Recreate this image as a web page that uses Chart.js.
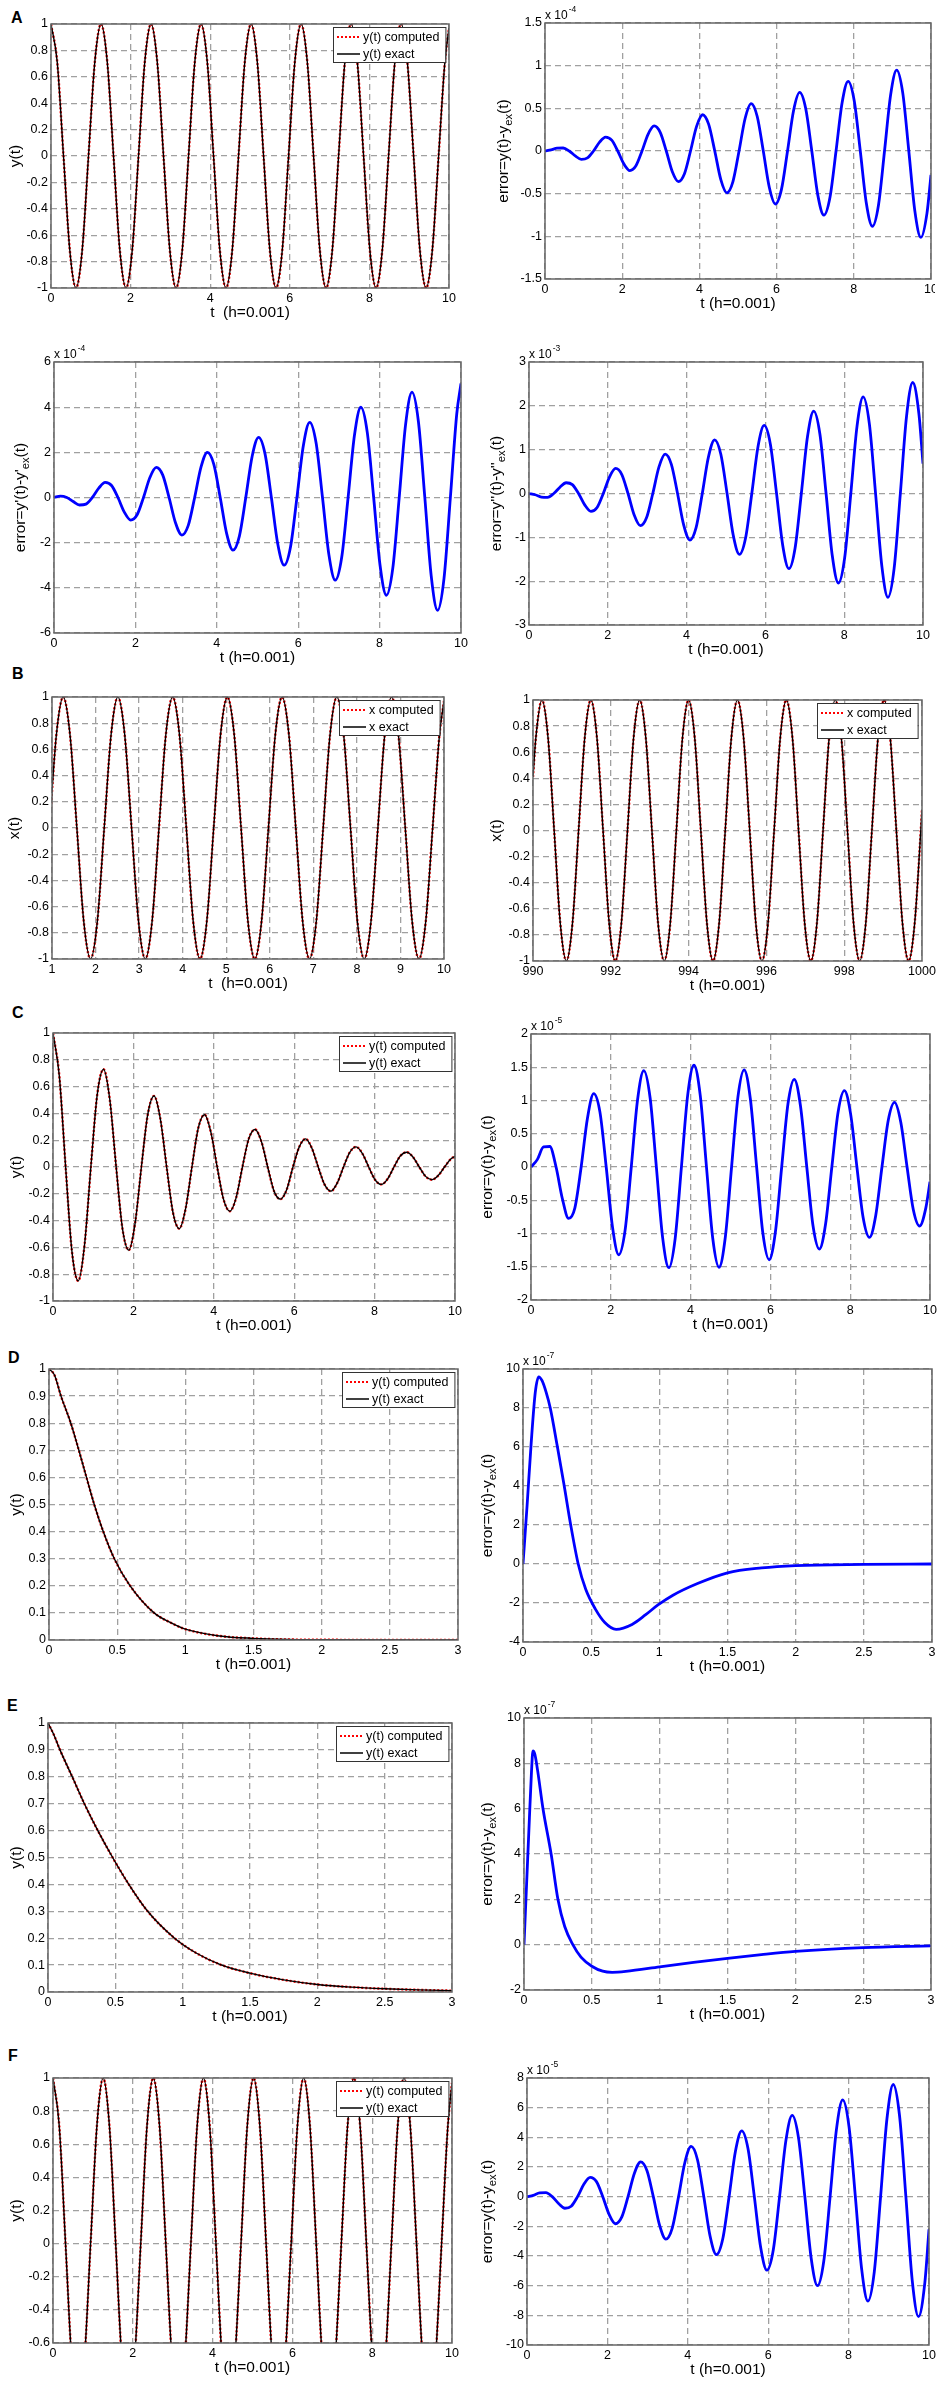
<!DOCTYPE html>
<html><head><meta charset="utf-8">
<script src="https://cdn.jsdelivr.net/npm/chart.js@4.4.0/dist/chart.umd.min.js"></script>
<style>
html,body{margin:0;padding:0;background:#fff;}
body{width:942px;height:2385px;position:relative;overflow:hidden;font-family:"Liberation Sans",Arial,Helvetica,sans-serif;}
canvas{position:absolute;}
.lbl{position:absolute;font-weight:bold;font-size:16px;line-height:16px;color:#000;}
</style></head><body>
<div class="lbl" style="left:11px;top:10px">A</div>
<div class="lbl" style="left:12px;top:666px">B</div>
<div class="lbl" style="left:12px;top:1005px">C</div>
<div class="lbl" style="left:8px;top:1350px">D</div>
<div class="lbl" style="left:7px;top:1698px">E</div>
<div class="lbl" style="left:8px;top:2048px">F</div>
<script>
// ---------- data ----------
const T5 = [
 0,0.157,0.314,0.471,0.628,0.785,0.942,1.100,
 1.257,1.414,1.571,1.728,1.885,2.042,2.199,2.356,
 2.513,2.670,2.827,2.985,3.142,3.299,3.456,3.613,
 3.770,3.927,4.084,4.241,4.398,4.555,4.712,4.869,
 5.027,5.184,5.341,5.498,5.655,5.812,5.969,6.126,
 6.283,6.440,6.597,6.754,6.912,7.069,7.226,7.383,
 7.540,7.697,7.854,8.011,8.168,8.325,8.482,8.639,
 8.796,8.954,9.111,9.268,9.425,9.582,9.739,9.896,
 10];
const yOsc = [
 1,0.71,0,-0.71,-1,-0.71,0,0.71,
 1,0.71,0,-0.71,-1,-0.71,0,0.71,
 1,0.71,0,-0.71,-1,-0.71,0,0.71,
 1,0.71,0,-0.71,-1,-0.71,0,0.71,
 1,0.71,0,-0.71,-1,-0.71,0,0.71,
 1,0.71,0,-0.71,-1,-0.71,0,0.71,
 1,0.71,0,-0.71,-1,-0.71,0,0.71,
 1,0.71,0,-0.71,-1,-0.71,0,0.71,
 0.97];
const errA = [
 0,0.012,0.033,0.035,0,-0.058,-0.098,-0.081,
 0,0.104,0.163,0.127,0,-0.150,-0.229,-0.173,
 0,0.196,0.294,0.219,0,-0.243,-0.359,-0.266,
 0,0.289,0.425,0.312,0,-0.335,-0.490,-0.358,
 0,0.381,0.555,0.404,0,-0.427,-0.621,-0.450,
 0,0.474,0.686,0.497,0,-0.520,-0.752,-0.543,
 0,0.566,0.817,0.589,0,-0.612,-0.882,-0.635,
 0,0.658,0.948,0.681,0,-0.705,-1.013,-0.728,
 -0.28];
const errA1 = [
 0,0.059,0,-0.177,-0.333,-0.294,0,0.412,
 0.666,0.530,0,-0.647,-0.999,-0.765,0,0.883,
 1.332,1.001,0,-1.118,-1.665,-1.236,0,1.354,
 1.998,1.471,0,-1.589,-2.331,-1.707,0,1.825,
 2.664,1.942,0,-2.060,-2.997,-2.178,0,2.295,
 3.330,2.413,0,-2.531,-3.663,-2.649,0,2.766,
 3.996,2.884,0,-3.002,-4.329,-3.119,0,3.237,
 4.662,3.355,0,-3.473,-4.995,-3.590,0,3.708,
 5.05];
const errA2 = [
 0,-0.029,-0.082,-0.087,0,0.144,0.245,0.202,
 0,-0.260,-0.408,-0.318,0,0.375,0.572,0.433,
 0,-0.491,-0.735,-0.549,0,0.606,0.898,0.664,
 0,-0.722,-1.062,-0.780,0,0.837,1.225,0.895,
 0,-0.953,-1.389,-1.010,0,1.068,1.552,1.126,
 0,-1.184,-1.715,-1.242,0,1.299,1.879,1.357,
 0,-1.415,-2.042,-1.473,0,1.530,2.205,1.588,
 0,-1.646,-2.369,-1.704,0,1.761,2.532,1.819,
 0.68];
const TB = [990,990.073,
 990.230,990.387,990.544,990.701,990.858,991.015,991.172,991.330,
 991.487,991.644,991.801,991.958,992.115,992.272,992.429,992.586,
 992.743,992.900,993.057,993.215,993.372,993.529,993.686,993.843,
 994.000,994.157,994.314,994.471,994.628,994.785,994.942,995.099,
 995.257,995.414,995.571,995.728,995.885,996.042,996.199,996.356,
 996.513,996.670,996.827,996.984,997.142,997.299,997.456,997.613,
 997.770,997.927,998.084,998.241,998.398,998.555,998.712,998.869,
 999.026,999.184,999.341,999.498,999.655,999.812,999.969,
 1000];
const xB = [0.41,0.71,
 1,0.71,0,-0.71,-1,-0.71,0,0.71,
 1,0.71,0,-0.71,-1,-0.71,0,0.71,
 1,0.71,0,-0.71,-1,-0.71,0,0.71,
 1,0.71,0,-0.71,-1,-0.71,0,0.71,
 1,0.71,0,-0.71,-1,-0.71,0,0.71,
 1,0.71,0,-0.71,-1,-0.71,0,0.71,
 1,0.71,0,-0.71,-1,-0.71,0,0.71,
 1,0.71,0,-0.71,-1,-0.71,0,
 0.16];
const yDamp = [
 1,0.68,0,-0.63,-0.85,-0.58,0,0.54,
 0.73,0.50,0,-0.46,-0.62,-0.42,0,0.39,
 0.53,0.36,0,-0.34,-0.46,-0.31,0,0.29,
 0.39,0.26,0,-0.24,-0.33,-0.23,0,0.21,
 0.28,0.19,0,-0.18,-0.24,-0.17,0,0.15,
 0.21,0.14,0,-0.13,-0.18,-0.12,0,0.11,
 0.15,0.10,0,-0.095,-0.13,-0.088,0,0.082,
 0.11,0.075,0,-0.07,-0.095,-0.064,0,0.06,
 0.079];
const errC = [
 0,0.111,0.302,0.308,0,-0.474,-0.774,-0.614,
 0,0.730,1.103,0.825,0,-0.901,-1.320,-0.961,
 0,1.007,1.450,1.041,0,-1.063,-1.514,-1.076,
 0,1.082,1.530,1.080,0,-1.072,-1.508,-1.060,
 0,1.043,1.461,1.022,0,-0.999,-1.395,-0.974,
 0,0.947,1.319,0.918,0,-0.888,-1.234,-0.857,
 0,0.827,1.147,0.795,0,-0.764,-1.059,-0.732,
 0,0.702,0.971,0.672,0,-0.642,-0.887,-0.614,
 -0.22];
const TD = [0,0.04,0.088,0.16,0.219,0.275,0.332,0.398,0.479,0.595,0.771,0.9,1,1.25,1.5,1.75,2,2.5,3];
const yD = [1,0.978,0.9,0.8,0.7,0.6,0.5,0.4,0.3,0.2,0.1,0.062,0.04,0.015,0.006,0.002,0.001,0,0];
const TDe = [0,0.03,0.06,0.09,0.115,0.14,0.17,0.2,0.25,0.3,0.35,0.405,0.46,0.53,0.6,0.683,0.8,0.9,0.99,1.1,1.28,1.5,1.75,2,2.5,3];
const errD = [0,3.0,6.2,8.8,9.6,9.4,8.8,8,6.1,4.1,2,0,-1.3,-2.3,-3.0,-3.35,-3.1,-2.6,-2.1,-1.6,-1.0,-0.45,-0.2,-0.08,-0.02,0];
const TE = [0,0.04,0.089,0.18,0.27,0.37,0.48,0.6,0.74,0.94,1.1,1.29,1.5,1.75,2,2.25,2.5,2.75,3];
const yE = [1,0.96,0.9,0.8,0.7,0.6,0.5,0.4,0.3,0.2,0.145,0.1,0.07,0.045,0.028,0.018,0.012,0.008,0.005];
const TEe = [0,0.02,0.04,0.055,0.066,0.08,0.1,0.14,0.2,0.25,0.3,0.36,0.42,0.5,0.58,0.65,0.75,1,1.25,1.5,1.75,2,2.5,3];
const errE = [0,2.8,5.6,7.6,8.55,8.4,7.7,6,4,2,0.8,0,-0.55,-0.95,-1.17,-1.22,-1.18,-0.98,-0.78,-0.6,-0.44,-0.3,-0.13,-0.05];
const errF = [
 0,0.092,0.261,0.277,0,-0.461,-0.782,-0.645,
 0,0.830,1.304,1.014,0,-1.198,-1.825,-1.383,
 0,1.567,2.347,1.751,0,-1.936,-2.868,-2.120,
 0,2.305,3.390,2.489,0,-2.673,-3.912,-2.858,
 0,3.042,4.433,3.227,0,-3.411,-4.955,-3.595,
 0,3.780,5.476,3.964,0,-4.149,-5.998,-4.333,
 0,4.517,6.520,4.702,0,-4.886,-7.041,-5.070,
 0,5.254,7.563,5.439,0,-5.623,-8.084,-5.808,
 -2.2];

// axis ranges [min, max, step]
const rT10 = [0,10,2], rT1_10 = [1,10,1], rT990 = [990,1000,2], rT3 = [0,3,0.5];
const rY1 = [-1,1,0.2], rYA = [-1.5,1.5,0.5], rYA1 = [-6,6,2], rYA2 = [-3,3,1];
const rYC = [-2,2,0.5], rY01 = [0,1,0.1], rYD = [-4,10,2], rYE = [-2,10,2];
const rYF = [-0.6,1,0.2], rYFe = [-10,8,2];

const ERR  = [{t:'error=y(t)-y'},{t:'ex',s:1},{t:'(t)'}];
const ERR1 = [{t:"error=y'(t)-y'"},{t:'ex',s:1},{t:'(t)'}];
const ERR2 = [{t:"error=y''(t)-y''"},{t:'ex',s:1},{t:'(t)'}];
const LY = ['y(t) computed','y(t) exact'];
const LX = ['x computed','x exact'];
const XL1 = 't  (h=0.001)', XL = 't (h=0.001)';

// ---------- layout ----------
const L = [0,471], R = [471,942];
const panels = [
 {col:L, plot:[51,24,449,288], xr:rT10, yr:rY1, ylab:[{t:'y(t)'}], ylx:16, xlab:XL1, leg:LY, t:T5, y:yOsc},
 {col:[471,935], plot:[545,23,931,279], xr:rT10, yr:rYA, ylab:ERR, ylx:504, xlab:XL, exp:'-4', t:T5, y:errA},
 {col:L, plot:[54,362,461,633], xr:rT10, yr:rYA1, ylab:ERR1, ylx:21, xlab:XL, exp:'-4', t:T5, y:errA1},
 {col:R, plot:[529,362,923,625], xr:rT10, yr:rYA2, ylab:ERR2, ylx:497, xlab:XL, exp:'-3', t:T5, y:errA2},
 {col:L, plot:[52,697,444,959], xr:rT1_10, yr:rY1, ylab:[{t:'x(t)'}], ylx:15, xlab:XL1, leg:LX, t:T5, y:yOsc},
 {col:R, plot:[533,700,922,961], xr:rT990, yr:rY1, ylab:[{t:'x(t)'}], ylx:497, xlab:XL, leg:LX, t:TB, y:xB},
 {col:L, plot:[53,1033,455,1301], xr:rT10, yr:rY1, ylab:[{t:'y(t)'}], ylx:17, xlab:XL, leg:LY, t:T5, y:yDamp},
 {col:R, plot:[531,1034,930,1300], xr:rT10, yr:rYC, ylab:ERR, ylx:488, xlab:XL, exp:'-5', t:T5, y:errC},
 {col:L, plot:[49,1369,458,1640], xr:rT3, yr:rY01, ylab:[{t:'y(t)'}], ylx:17, xlab:XL, leg:LY, t:TD, y:yD},
 {col:R, plot:[523,1369,932,1642], xr:rT3, yr:rYD, ylab:ERR, ylx:488, xlab:XL, exp:'-7', t:TDe, y:errD},
 {col:L, plot:[48,1723,452,1992], xr:rT3, yr:rY01, ylab:[{t:'y(t)'}], ylx:17, xlab:XL, leg:LY, t:TE, y:yE},
 {col:R, plot:[524,1718,931,1990], xr:rT3, yr:rYE, ylab:ERR, ylx:488, xlab:XL, exp:'-7', t:TEe, y:errE},
 {col:L, plot:[53,2078,452,2343], xr:rT10, yr:rYF, ylab:[{t:'y(t)'}], ylx:17, xlab:XL, leg:LY, t:T5, y:yOsc},
 {col:R, plot:[527,2078,929,2345], xr:rT10, yr:rYFe, ylab:ERR, ylx:488, xlab:XL, exp:'-5', t:T5, y:errF}
];

const FONT = '"Liberation Sans", Arial, Helvetica, sans-serif';
const GRID = '#a0a0a0';
const TOPPAD = 30, XAXH = 45;
function fmt(v){ return String(parseFloat(Number(v).toFixed(6))); }
function pts(xs, ys){ return xs.map((x,i)=>({x:x, y:ys[i]})); }

function drawRich(ctx, parts, cx, cy, rot, size){
  ctx.save();
  ctx.translate(cx, cy);
  if (rot) ctx.rotate(-Math.PI/2);
  ctx.textBaseline = 'middle'; ctx.textAlign = 'left'; ctx.fillStyle = '#000';
  let total = 0;
  parts.forEach(p => { ctx.font = (p.s ? size*0.72 : size) + 'px ' + FONT; p.w = ctx.measureText(p.t).width; total += p.w; });
  let x = -total/2;
  parts.forEach(p => { ctx.font = (p.s ? size*0.72 : size) + 'px ' + FONT; ctx.fillText(p.t, x, p.s ? 4.5 : 0); x += p.w; });
  ctx.restore();
}

const deco = {
  id:'deco',
  afterDatasetsDraw(chart){
    const P = chart.$panel, ctx = chart.ctx, a = chart.chartArea;
    const ox = P.col[0];
    ctx.save();
    ctx.setLineDash([]);
    ctx.strokeStyle = '#666'; ctx.lineWidth = 1.5;
    ctx.strokeRect(a.left, a.top, a.right - a.left, a.bottom - a.top);
    if (P.leg) {
      ctx.font = '12.5px ' + FONT;
      const w = 30 + Math.max(ctx.measureText(P.leg[0]).width, ctx.measureText(P.leg[1]).width) + 6;
      const h = 35;
      const bx = Math.round(a.right - 4 - w), by = Math.round(a.top + 3);
      ctx.fillStyle = '#fff'; ctx.fillRect(bx, by, w, h);
      ctx.strokeStyle = '#333'; ctx.lineWidth = 1; ctx.strokeRect(bx + 0.5, by + 0.5, w, h);
      ctx.strokeStyle = '#ff0000'; ctx.lineWidth = 2; ctx.setLineDash([2,2]);
      ctx.beginPath(); ctx.moveTo(bx + 4, by + 10); ctx.lineTo(bx + 27, by + 10); ctx.stroke();
      ctx.setLineDash([]);
      ctx.strokeStyle = '#000'; ctx.lineWidth = 1.5;
      ctx.beginPath(); ctx.moveTo(bx + 4, by + 27); ctx.lineTo(bx + 27, by + 27); ctx.stroke();
      ctx.fillStyle = '#000'; ctx.textBaseline = 'middle'; ctx.textAlign = 'left';
      ctx.fillText(P.leg[0], bx + 30, by + 10.5);
      ctx.fillText(P.leg[1], bx + 30, by + 27.5);
    }
    if (P.exp) {
      ctx.fillStyle = '#000'; ctx.textAlign = 'left'; ctx.textBaseline = 'alphabetic';
      ctx.font = '12px ' + FONT;
      const s = 'x 10';
      ctx.fillText(s, a.left, a.top - 4);
      const w = ctx.measureText(s).width;
      ctx.font = '8.5px ' + FONT;
      ctx.fillText(P.exp, a.left + w + 1, a.top - 11);
    }
    drawRich(ctx, P.ylab, P.ylx - ox, (a.top + a.bottom)/2, true, 15.5);
    drawRich(ctx, [{t:P.xlab}], (a.left + a.right)/2, a.bottom + 24.5, false, 15.5);
    ctx.restore();
  }
};

panels.forEach((P) => {
  const cv = document.createElement('canvas');
  const W = P.col[1] - P.col[0];
  const H = P.plot[3] - P.plot[1] + TOPPAD + XAXH;
  cv.width = W; cv.height = H;
  cv.style.left = P.col[0] + 'px';
  cv.style.top = (P.plot[1] - TOPPAD) + 'px';
  cv.style.width = W + 'px'; cv.style.height = H + 'px';
  document.body.appendChild(cv);
  const base = {pointRadius:0, fill:false, tension:0.4, cubicInterpolationMode:'monotone'};
  const ds = P.leg ? [
    Object.assign({label:P.leg[0], data:pts(P.t, P.y), borderColor:'#ff0000', borderWidth:2.4, borderDash:[2,2], order:1}, base),
    Object.assign({label:P.leg[1], data:pts(P.t, P.y), borderColor:'#000000', borderWidth:1.4, order:0}, base)
  ] : [
    Object.assign({label:'error', data:pts(P.t, P.y), borderColor:'#0000ff', borderWidth:2.8}, base)
  ];
  const tickFont = {family:FONT, size:12.5};
  const yW = P.plot[0] - P.col[0];
  new Chart(cv, {
    type:'line',
    data:{datasets:ds},
    options:{
      responsive:false, animation:false, events:[],
      devicePixelRatio: window.devicePixelRatio || 1,
      layout:{padding:{left:0, top:TOPPAD, right:P.col[1] - P.plot[2], bottom:0}},
      plugins:{legend:{display:false}, tooltip:{enabled:false}},
      scales:{
        x:{type:'linear', min:P.xr[0], max:P.xr[1],
           ticks:{stepSize:P.xr[2], autoSkip:false, maxRotation:0, padding:3, color:'#000', font:tickFont, callback:fmt},
           grid:{color:GRID, lineWidth:1.3, drawTicks:false},
           border:{display:false, dash:[6,4]},
           afterFit(s){ s.height = XAXH; s.paddingLeft = 0; s.paddingRight = 0; }},
        y:{type:'linear', min:P.yr[0], max:P.yr[1],
           ticks:{stepSize:P.yr[2], autoSkip:false, padding:3, color:'#000', font:tickFont, callback:fmt},
           grid:{color:GRID, lineWidth:1.3, drawTicks:false},
           border:{display:false, dash:[6,4]},
           afterFit(s){ s.width = yW; s.paddingTop = 0; s.paddingBottom = 0; }}
      }
    },
    plugins:[{id:'attach', beforeInit(c){ c.$panel = P; }}, deco]
  });
});
</script>
</body></html>
